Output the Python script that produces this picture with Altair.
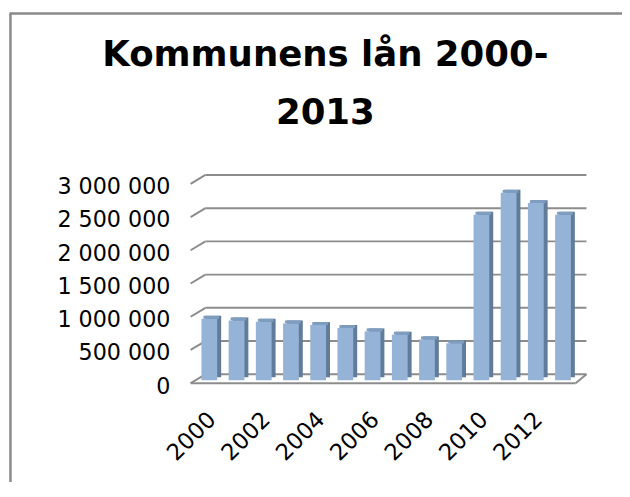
import altair as alt
import pandas as pd

years = list(range(2000, 2014))
loans = [925000, 900000, 880000, 855000, 830000, 785000, 735000, 685000, 615000, 555000,
         2490000, 2820000, 2665000, 2490000]
grid_values = [0, 500000, 1000000, 1500000, 2000000, 2500000, 3000000]
label_years = [2000, 2002, 2004, 2006, 2008, 2010, 2012]
title_lines = ["Kommunens lån 2000-", "2013"]

bars_df = pd.DataFrame({"year": years, "loan": loans})
grid_df = pd.DataFrame({"v": grid_values})
floor_df = pd.DataFrame({"v": [0]})
frame_df = pd.DataFrame({"k": [0]})

W, H = 401, 202
FONT = "DejaVu Sans"
GRID = "#8c8c8c"

yscale = alt.Scale(domain=[0, 3000000], nice=False, zero=True)
xscale = alt.Scale(paddingInner=0.42, paddingOuter=0.485, align=0.41)

x_enc = alt.X(
    "year:O", scale=xscale, title=None,
    axis=alt.Axis(values=label_years, labelAngle=315, labelAlign="right",
                  labelBaseline="middle", labelPadding=36, labelOffset=3,
                  labelFontSize=23, labelFont=FONT, labelColor="#000000",
                  labelOverlap=False, domain=False, ticks=False, tickSize=0, grid=False),
)
y_axis = alt.Axis(values=grid_values, tickCount=7, labelFontSize=22.5, labelFont=FONT,
                  labelColor="#000000", labelPadding=21, labelOffset=6, labelOverlap=False,
                  domain=False, ticks=False, tickSize=0, grid=False,
                  labelExpr="replace(format(datum.value, ',d'), regexp(',', 'g'), ' ')")


def yq(field):
    return alt.Y(field, type="quantitative", scale=yscale, axis=y_axis, title=None)


frame_left = alt.Chart(frame_df).mark_rule(color="#8a8a8a", strokeWidth=2.5).encode(
    x=alt.value(-182.5), y=alt.value(-169.5), y2=alt.value(320))
frame_top = alt.Chart(frame_df).mark_rule(color="#8a8a8a", strokeWidth=2.5).encode(
    x=alt.value(-183.5), x2=alt.value(460), y=alt.value(-169.5))

back_grid = alt.Chart(grid_df).mark_rule(color=GRID, strokeWidth=2, yOffset=-6).encode(
    y=yq("v"), x=alt.value(15), x2=alt.value(401))
slants = alt.Chart(grid_df).mark_rule(color=GRID, strokeWidth=2, yOffset=3, y2Offset=-6).encode(
    y=yq("v"), y2=alt.Y2("v"), x=alt.value(0), x2=alt.value(15))
floor_front = alt.Chart(floor_df).mark_rule(color=GRID, strokeWidth=2, yOffset=3).encode(
    y=yq("v"), x=alt.value(0), x2=alt.value(390))
floor_right = alt.Chart(floor_df).mark_rule(color=GRID, strokeWidth=2, yOffset=3, y2Offset=-6).encode(
    y=yq("v"), y2=alt.Y2("v"), x=alt.value(390), x2=alt.value(401))

side = alt.Chart(bars_df).mark_bar(color="#607c9a", xOffset=4, yOffset=-3).encode(
    x=x_enc, y=yq("loan"))
top = alt.Chart(bars_df).mark_bar(color="#7f9dbf", xOffset=2, yOffset=-3).encode(
    x=x_enc, y=yq("loan"), y2=alt.Y2("loan"))
front = alt.Chart(bars_df).mark_bar(color="#95b3d7").encode(
    x=x_enc, y=yq("loan"))

chart = alt.layer(
    frame_left, frame_top, back_grid, slants, floor_front, floor_right, side, top, front
).properties(
    width=W, height=H,
    background="#ffffff",
    autosize=alt.AutoSizeParams(type="none"),
    padding={"left": 185, "top": 172, "right": 36, "bottom": 100},
    title=alt.TitleParams(text=title_lines, font=FONT, fontSize=36, fontWeight="bold",
                          color="#000000", lineHeight=59, anchor="middle", frame="group",
                          baseline="top", dx=-64, offset=-121),
).configure_view(strokeWidth=0, stroke="transparent")

chart.save("out.html", embed_options={"renderer": "svg", "actions": False})
